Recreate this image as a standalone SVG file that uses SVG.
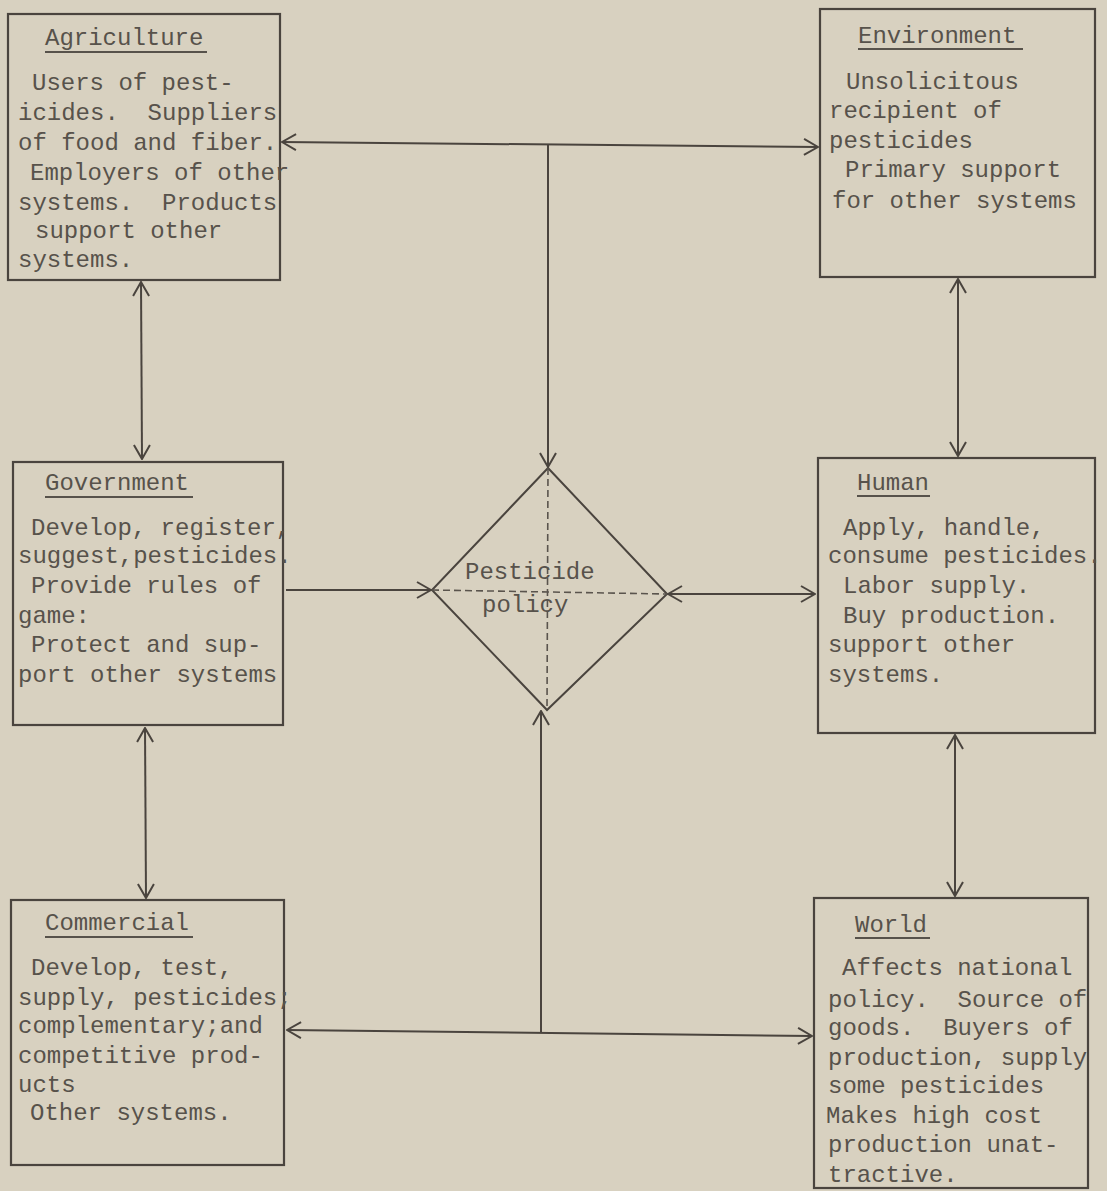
<svg xmlns="http://www.w3.org/2000/svg" width="1107" height="1191" viewBox="0 0 1107 1191">
<defs>
<style>
.bg{fill:#d8d1c0}
.box{fill:none;stroke:#4a443e;stroke-width:2.2}
.t{font-family:"Liberation Mono","DejaVu Sans Mono",monospace;font-size:24px;fill:#57524b;white-space:pre}
.ul{stroke:#57524b;stroke-width:2}
.c{fill:none;stroke:#4a443e;stroke-width:2}
.d{fill:none;stroke:#5a544d;stroke-width:1.6;stroke-dasharray:7,4}
</style>
<marker id="ah" viewBox="0 0 16 18" refX="15" refY="9" markerWidth="16" markerHeight="18" markerUnits="userSpaceOnUse" orient="auto-start-reverse">
<path d="M1,1 L15,9 L1,17" fill="none" stroke="#4a443e" stroke-width="2"/>
</marker>
</defs>
<rect class="bg" x="0" y="0" width="1107" height="1191"/>

<g id="connectors">
<line class="c" x1="282" y1="142" x2="818" y2="147" marker-start="url(#ah)" marker-end="url(#ah)"/>
<line class="c" x1="548" y1="145" x2="548" y2="467" marker-end="url(#ah)"/>
<line class="c" x1="141" y1="282" x2="142" y2="459" marker-start="url(#ah)" marker-end="url(#ah)"/>
<line class="c" x1="958" y1="279" x2="958" y2="456" marker-start="url(#ah)" marker-end="url(#ah)"/>
<line class="c" x1="286" y1="590" x2="431" y2="590" marker-end="url(#ah)"/>
<line class="c" x1="668" y1="594" x2="815" y2="594" marker-start="url(#ah)" marker-end="url(#ah)"/>
<line class="c" x1="145" y1="728" x2="146" y2="898" marker-start="url(#ah)" marker-end="url(#ah)"/>
<line class="c" x1="955" y1="735" x2="955" y2="896" marker-start="url(#ah)" marker-end="url(#ah)"/>
<line class="c" x1="287" y1="1030" x2="812" y2="1036" marker-start="url(#ah)" marker-end="url(#ah)"/>
<line class="c" x1="541" y1="1032" x2="541" y2="711" marker-end="url(#ah)"/>
</g>

<g id="agriculture">
<rect class="box" x="8" y="14" width="272" height="266"/>
<text class="t" x="45" y="45">Agriculture</text>
<line class="ul" x1="45" y1="52" x2="207" y2="52"/>
<text class="t" x="32" y="90" xml:space="preserve">Users of pest-</text>
<text class="t" x="18" y="120" xml:space="preserve">icides.  Suppliers</text>
<text class="t" x="18" y="150" xml:space="preserve">of food and fiber.</text>
<text class="t" x="30" y="180" xml:space="preserve">Employers of other</text>
<text class="t" x="18" y="210" xml:space="preserve">systems.  Products</text>
<text class="t" x="35" y="238" xml:space="preserve">support other</text>
<text class="t" x="18" y="267">systems.</text>
</g>

<g id="environment">
<rect class="box" x="820" y="9" width="275" height="268"/>
<text class="t" x="858" y="43">Environment</text>
<line class="ul" x1="858" y1="49" x2="1023" y2="49"/>
<text class="t" x="846" y="89">Unsolicitous</text>
<text class="t" x="829" y="118" xml:space="preserve">recipient of</text>
<text class="t" x="829" y="148">pesticides</text>
<text class="t" x="845" y="177" xml:space="preserve">Primary support</text>
<text class="t" x="832" y="208" xml:space="preserve">for other systems</text>
</g>

<g id="government">
<rect class="box" x="13" y="462" width="270" height="263"/>
<text class="t" x="45" y="490">Government</text>
<line class="ul" x1="45" y1="497" x2="193" y2="497"/>
<text class="t" x="31" y="535" xml:space="preserve">Develop, register,</text>
<text class="t" x="18" y="563">suggest,pesticides.</text>
<text class="t" x="31" y="593" xml:space="preserve">Provide rules of</text>
<text class="t" x="18" y="623">game:</text>
<text class="t" x="31" y="652" xml:space="preserve">Protect and sup-</text>
<text class="t" x="18" y="682" xml:space="preserve">port other systems</text>
</g>

<g id="pesticide-policy">
<polygon class="c" points="548,468 667,594 547,710 432,590"/>
<line class="d" x1="432" y1="590" x2="667" y2="594"/>
<line class="d" x1="548" y1="468" x2="547" y2="710"/>
<text class="t" x="465" y="579">Pesticide</text>
<text class="t" x="482" y="612">policy</text>
</g>

<g id="human">
<rect class="box" x="818" y="458" width="277" height="275"/>
<text class="t" x="857" y="490">Human</text>
<line class="ul" x1="857" y1="496" x2="930" y2="496"/>
<text class="t" x="843" y="535" xml:space="preserve">Apply, handle,</text>
<text class="t" x="828" y="563" xml:space="preserve">consume pesticides.</text>
<text class="t" x="843" y="593" xml:space="preserve">Labor supply.</text>
<text class="t" x="843" y="623" xml:space="preserve">Buy production.</text>
<text class="t" x="828" y="652" xml:space="preserve">support other</text>
<text class="t" x="828" y="682">systems.</text>
</g>

<g id="commercial">
<rect class="box" x="11" y="900" width="273" height="265"/>
<text class="t" x="45" y="930">Commercial</text>
<line class="ul" x1="45" y1="937" x2="193" y2="937"/>
<text class="t" x="31" y="975" xml:space="preserve">Develop, test,</text>
<text class="t" x="18" y="1005" xml:space="preserve">supply, pesticides;</text>
<text class="t" x="18" y="1033">complementary;and</text>
<text class="t" x="18" y="1063" xml:space="preserve">competitive prod-</text>
<text class="t" x="18" y="1092">ucts</text>
<text class="t" x="30" y="1120" xml:space="preserve">Other systems.</text>
</g>

<g id="world">
<rect class="box" x="814" y="898" width="274" height="290"/>
<text class="t" x="855" y="932">World</text>
<line class="ul" x1="855" y1="938" x2="930" y2="938"/>
<text class="t" x="842" y="975" xml:space="preserve">Affects national</text>
<text class="t" x="828" y="1007" xml:space="preserve">policy.  Source of</text>
<text class="t" x="828" y="1035" xml:space="preserve">goods.  Buyers of</text>
<text class="t" x="828" y="1065" xml:space="preserve">production, supply</text>
<text class="t" x="828" y="1093" xml:space="preserve">some pesticides</text>
<text class="t" x="826" y="1123" xml:space="preserve">Makes high cost</text>
<text class="t" x="828" y="1152" xml:space="preserve">production unat-</text>
<text class="t" x="828" y="1182">tractive.</text>
</g>
</svg>
